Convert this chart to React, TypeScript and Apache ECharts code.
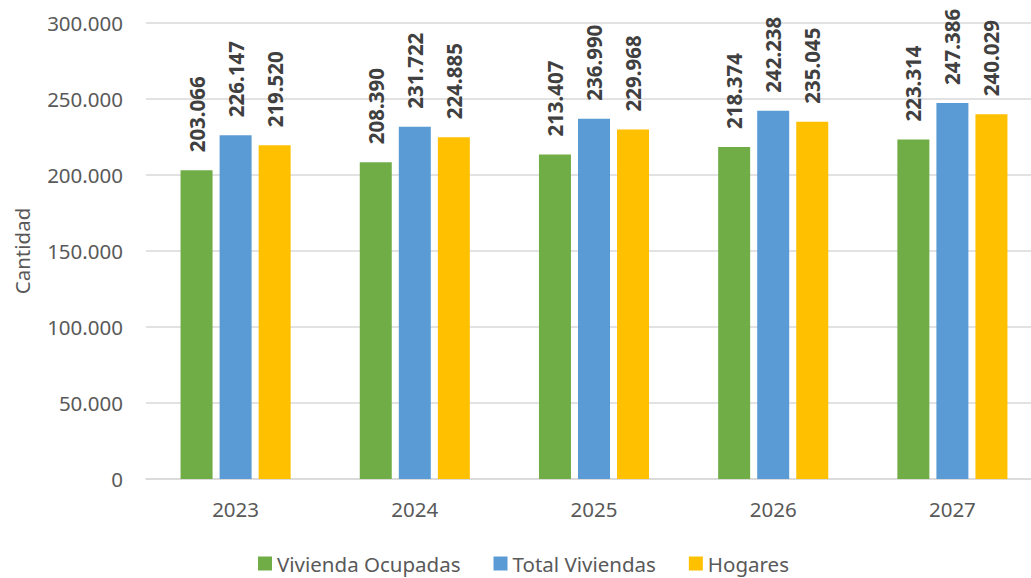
import React, { useEffect, useRef } from "react";
import * as echarts from "echarts";

const categories = ["2023", "2024", "2025", "2026", "2027"];
const viviendaOcupadas = [203066, 208390, 213407, 218374, 223314];
const totalViviendas = [226147, 231722, 236990, 242238, 247386];
const hogares = [219520, 224885, 229968, 235045, 240029];
const seriesNames = ["Vivienda Ocupadas", "Total Viviendas", "Hogares"];
const seriesColors = ["#70AD47", "#5B9BD5", "#FFC000"];

const fmt = (v: number) =>
  String(Math.round(v)).replace(/\B(?=(\d{3})+(?!\d))/g, ".");

const FONT = "'Noto Sans', sans-serif";
const FS = 20.5;

export default function App() {
  const ref = useRef<HTMLDivElement>(null);
  useEffect(() => {
    if (!ref.current) return;
    const chart = echarts.init(ref.current, null, { renderer: "svg" });
    const dataSets = [viviendaOcupadas, totalViviendas, hogares];
    chart.setOption({
      animation: false,
      backgroundColor: "#ffffff",
      textStyle: { fontFamily: FONT },
      grid: { left: 146, top: 23, bottom: 99, right: 0, containLabel: false, outerBoundsMode: "none" },
      legend: {
        left: 253,
        top: 548,
        icon: "rect",
        itemWidth: 14,
        itemHeight: 14,
        itemGap: 33,
        textStyle: { fontSize: FS, color: "#595959", fontFamily: FONT },
        data: seriesNames,
      },
      xAxis: {
        type: "category",
        data: categories,
        axisTick: { show: false },
        axisLine: { lineStyle: { color: "#d9d9d9", width: 1.5 } },
        axisLabel: { fontSize: FS, color: "#595959", margin: 19, fontFamily: FONT },
      },
      yAxis: {
        type: "value",
        min: 0,
        max: 300000,
        interval: 50000,
        name: "Cantidad",
        nameLocation: "middle",
        nameGap: 114,
        nameTextStyle: { fontSize: FS, color: "#595959", fontFamily: FONT },
        axisLine: { show: false },
        axisTick: { show: false },
        splitLine: { lineStyle: { color: "#d9d9d9", width: 1.5 } },
        axisLabel: {
          fontSize: FS,
          color: "#595959",
          margin: 23,
          fontFamily: FONT,
          formatter: (v: number) => fmt(v),
        },
      },
      series: dataSets.map((d, i) => ({
        name: seriesNames[i],
        type: "bar",
        data: d,
        barWidth: 32,
        barGap: "22%",
        itemStyle: { color: seriesColors[i] },
        label: {
          show: true,
          position: "top",
          rotate: 90,
          align: "left",
          verticalAlign: "middle",
          distance: 18,
          fontSize: FS,
          fontWeight: "bold",
          color: "#404040",
          fontFamily: FONT,
          formatter: (p: any) => fmt(p.value),
        },
      })),
    });
    return () => chart.dispose();
  }, []);
  return (
    <div
      style={{
        position: "absolute",
        left: 0,
        top: 0,
        width: 1031,
        height: 578,
        overflow: "hidden",
        background: "#ffffff",
      }}
    >
      <div ref={ref} style={{ width: 1042, height: 578 }} />
    </div>
  );
}
